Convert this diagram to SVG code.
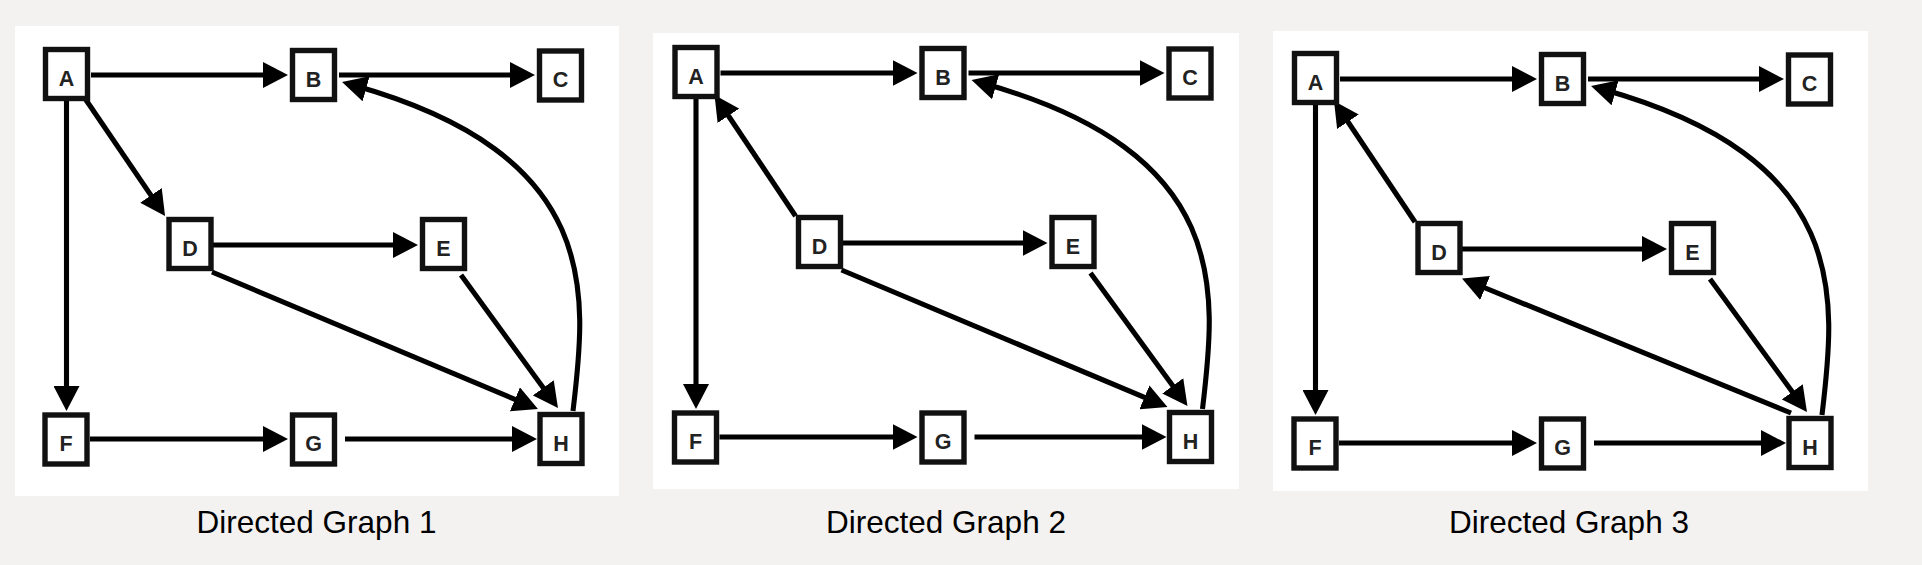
<svg xmlns="http://www.w3.org/2000/svg" width="1922" height="565" viewBox="0 0 1922 565">
<defs>
<style>
.bg{fill:#f3f2f0}
.panel{fill:#ffffff}
.node rect{fill:#ffffff;stroke:#111111;stroke-width:5.4}
.node text{font-family:"Liberation Sans",Arial,Helvetica,sans-serif;font-weight:bold;font-size:21.5px;fill:#222222;text-anchor:middle}
.edge{fill:none;stroke:#000000;stroke-width:5.1;marker-end:url(#arr)}
.title{font-family:"Liberation Sans",Arial,Helvetica,sans-serif;font-size:31.5px;fill:#000000;text-anchor:middle}
</style>
<marker id="arr" markerUnits="userSpaceOnUse" markerWidth="25" markerHeight="26" refX="13" refY="13" orient="auto" viewBox="0 0 25 26">
<path d="M0,0 L25,13 L0,26 Z" fill="#000000"/>
</marker>
</defs>
<rect class="bg" x="0" y="0" width="1922" height="565"/>
<rect class="panel" x="15" y="26" width="604" height="470"/>
<rect class="panel" x="653" y="33" width="586" height="456"/>
<rect class="panel" x="1273" y="31" width="595" height="460"/>

<!-- Graph 1 -->
<g id="graph1">
<g id="g1-edges">
<line class="edge" x1="91" y1="75" x2="276" y2="75"/>
<line class="edge" x1="339" y1="75" x2="523" y2="75"/>
<line class="edge" x1="66.5" y1="101" x2="66.5" y2="399"/>
<line class="edge" x1="84" y1="97" x2="158.3" y2="206.1"/>
<line class="edge" x1="213" y1="245" x2="406" y2="245"/>
<line class="edge" x1="212" y1="272" x2="526.9" y2="404.4"/>
<line class="edge" x1="461" y1="275" x2="550.9" y2="398.3"/>
<line class="edge" x1="90" y1="439" x2="276" y2="439"/>
<line class="edge" x1="345" y1="439" x2="525" y2="439"/>
<path class="edge" d="M573,411 C587.4,291.8 602,155 353.6,85.3"/>
</g>
<g id="g1-A" class="node"><rect x="45.5" y="49.5" width="42" height="49"/><text x="66.5" y="85.5">A</text></g>
<g id="g1-B" class="node"><rect x="292.5" y="50.5" width="42" height="49"/><text x="313.5" y="86.5">B</text></g>
<g id="g1-C" class="node"><rect x="539.5" y="51" width="42" height="49"/><text x="560.5" y="87">C</text></g>
<g id="g1-D" class="node"><rect x="169" y="219.5" width="42" height="49"/><text x="190" y="255.5">D</text></g>
<g id="g1-E" class="node"><rect x="422.5" y="219.5" width="42" height="49"/><text x="443.5" y="255.5">E</text></g>
<g id="g1-F" class="node"><rect x="45" y="415" width="42" height="49"/><text x="66" y="451">F</text></g>
<g id="g1-G" class="node"><rect x="292.5" y="415" width="42" height="49"/><text x="313.5" y="451">G</text></g>
<g id="g1-H" class="node"><rect x="540" y="414.5" width="42" height="49"/><text x="561" y="450.5">H</text></g>
<text class="title" x="316.5" y="533">Directed Graph 1</text>
</g>

<!-- Graph 2 -->
<g id="graph2">
<g id="g2-edges" transform="translate(629.5,-2)">
<line class="edge" x1="91" y1="75" x2="276" y2="75"/>
<line class="edge" x1="339" y1="75" x2="523" y2="75"/>
<line class="edge" x1="66.5" y1="101" x2="66.5" y2="399"/>
<line class="edge" x1="166" y1="218" x2="91.7" y2="107"/>
<line class="edge" x1="213" y1="245" x2="406" y2="245"/>
<line class="edge" x1="212" y1="272" x2="526.9" y2="404.4"/>
<line class="edge" x1="461" y1="275" x2="550.9" y2="398.3"/>
<line class="edge" x1="90" y1="439" x2="276" y2="439"/>
<line class="edge" x1="345" y1="439" x2="525" y2="439"/>
<path class="edge" d="M573,411 C587.4,291.8 602,155 353.6,85.3"/>
</g>
<g id="g2-A" class="node" transform="translate(629.5,-2)"><rect x="45.5" y="49.5" width="42" height="49"/><text x="66.5" y="85.5">A</text></g>
<g id="g2-B" class="node" transform="translate(629.5,-2)"><rect x="292.5" y="50.5" width="42" height="49"/><text x="313.5" y="86.5">B</text></g>
<g id="g2-C" class="node" transform="translate(629.5,-2)"><rect x="539.5" y="51" width="42" height="49"/><text x="560.5" y="87">C</text></g>
<g id="g2-D" class="node" transform="translate(629.5,-2)"><rect x="169" y="219.5" width="42" height="49"/><text x="190" y="255.5">D</text></g>
<g id="g2-E" class="node" transform="translate(629.5,-2)"><rect x="422.5" y="219.5" width="42" height="49"/><text x="443.5" y="255.5">E</text></g>
<g id="g2-F" class="node" transform="translate(629.5,-2)"><rect x="45" y="415" width="42" height="49"/><text x="66" y="451">F</text></g>
<g id="g2-G" class="node" transform="translate(629.5,-2)"><rect x="292.5" y="415" width="42" height="49"/><text x="313.5" y="451">G</text></g>
<g id="g2-H" class="node" transform="translate(629.5,-2)"><rect x="540" y="414.5" width="42" height="49"/><text x="561" y="450.5">H</text></g>
<text class="title" x="946" y="533">Directed Graph 2</text>
</g>

<!-- Graph 3 -->
<g id="graph3">
<g id="g3-edges" transform="translate(1249,4)">
<line class="edge" x1="91" y1="75" x2="276" y2="75"/>
<line class="edge" x1="339" y1="75" x2="523" y2="75"/>
<line class="edge" x1="66.5" y1="101" x2="66.5" y2="399"/>
<line class="edge" x1="166" y1="218" x2="91.7" y2="107"/>
<line class="edge" x1="213" y1="245" x2="406" y2="245"/>
<line class="edge" x1="542" y1="409" x2="224.1" y2="279"/>
<line class="edge" x1="461" y1="275" x2="550.9" y2="398.3"/>
<line class="edge" x1="90" y1="439" x2="276" y2="439"/>
<line class="edge" x1="345" y1="439" x2="525" y2="439"/>
<path class="edge" d="M573,411 C587.4,291.8 602,155 353.6,85.3"/>
</g>
<g id="g3-A" class="node" transform="translate(1249,4)"><rect x="45.5" y="49.5" width="42" height="49"/><text x="66.5" y="85.5">A</text></g>
<g id="g3-B" class="node" transform="translate(1249,4)"><rect x="292.5" y="50.5" width="42" height="49"/><text x="313.5" y="86.5">B</text></g>
<g id="g3-C" class="node" transform="translate(1249,4)"><rect x="539.5" y="51" width="42" height="49"/><text x="560.5" y="87">C</text></g>
<g id="g3-D" class="node" transform="translate(1249,4)"><rect x="169" y="219.5" width="42" height="49"/><text x="190" y="255.5">D</text></g>
<g id="g3-E" class="node" transform="translate(1249,4)"><rect x="422.5" y="219.5" width="42" height="49"/><text x="443.5" y="255.5">E</text></g>
<g id="g3-F" class="node" transform="translate(1249,4)"><rect x="45" y="415" width="42" height="49"/><text x="66" y="451">F</text></g>
<g id="g3-G" class="node" transform="translate(1249,4)"><rect x="292.5" y="415" width="42" height="49"/><text x="313.5" y="451">G</text></g>
<g id="g3-H" class="node" transform="translate(1249,4)"><rect x="540" y="414.5" width="42" height="49"/><text x="561" y="450.5">H</text></g>
<text class="title" x="1569" y="533">Directed Graph 3</text>
</g>
</svg>
